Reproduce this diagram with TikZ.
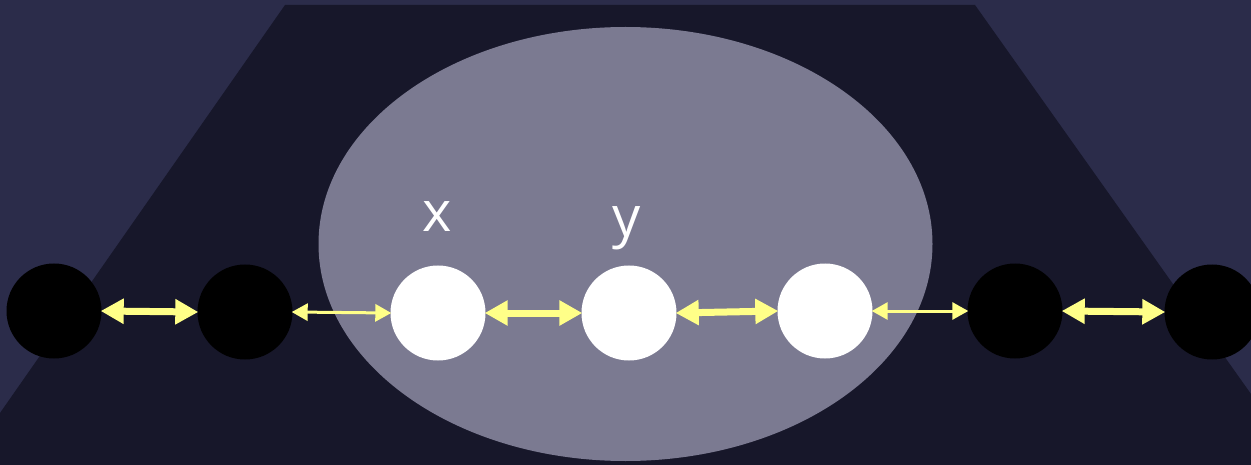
\documentclass[tikz,border=0pt]{standalone}
\usepackage{fontspec}
\setmainfont{Open Sans}
\usetikzlibrary{arrows.meta}
\definecolor{bgnavy}{HTML}{2B2C4A}
\definecolor{trap}{HTML}{17172A}
\definecolor{ell}{HTML}{7B7A91}
\definecolor{arr}{HTML}{FFFF88}
\tikzset{
  blackdot/.style={circle,fill=black,minimum size=95pt,inner sep=0pt},
  whitedot/.style={circle,fill=white,minimum size=95pt,inner sep=0pt},
  thickarr/.style={draw=arr,line width=7pt,{Triangle[width=24pt,length=23pt]}-{Triangle[width=24pt,length=23pt]},shorten <=-1pt,shorten >=-1pt},
  thinarr/.style={draw=arr,line width=3pt,{Triangle[width=17pt,length=16pt]}-{Triangle[width=17pt,length=16pt]},shorten <=-1pt,shorten >=-1pt},
  lbl/.style={text=white,font=\fontsize{56}{60}\selectfont}
}
\begin{document}
\begin{tikzpicture}[x=1pt,y=-1pt]
\fill[bgnavy] (0,0) rectangle (1251,465);
\useasboundingbox (0,0) rectangle (1251,465);
\fill[trap] (285,5) -- (975,5) -- (1251,394) -- (1251,465) -- (0,465) -- (0,413) -- cycle;
\fill[ell] (625.5,244) ellipse [x radius=307, y radius=217];
\node[blackdot] (b1) at (54,311) {};
\node[blackdot] (b2) at (245,312) {};
\node[whitedot] (w1) at (438,313) {};
\node[whitedot] (w2) at (629,313) {};
\node[whitedot] (w3) at (825,311) {};
\node[blackdot] (b3) at (1015,311) {};
\node[blackdot] (b4) at (1212,312) {};
\node[lbl] (lx) at (437,217) {x};
\node[lbl] (ly) at (627,228) {y};
\draw[thickarr] (b1.east) -- (b2.west);
\draw[thinarr] (b2.east) -- (w1.west);
\draw[thickarr] (w1.east) -- (w2.west);
\draw[thickarr] (w2.east) -- (w3.west);
\draw[thinarr] (w3.east) -- (b3.west);
\draw[thickarr] (b3.east) -- (b4.west);
\end{tikzpicture}
\end{document}
